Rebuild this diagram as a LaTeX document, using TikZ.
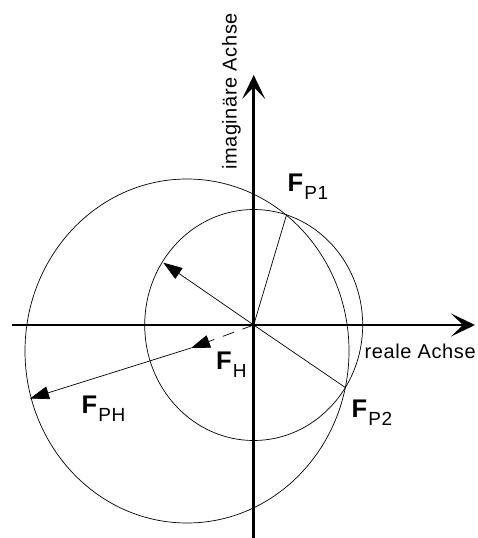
\documentclass[tikz,border=0pt]{standalone}
\usepackage{fontspec}
\setmainfont[LetterSpace=3]{Liberation Sans}
\usepackage{tikz}
\usetikzlibrary{
    arrows.meta,
    positioning,
    calc
}
\newcommand{\forcename}[1]{{\fontsize{25.5}{25.5}\selectfont\bfseries F}\kern1pt\raisebox{-7.8pt}{\fontsize{19}{19}\selectfont #1}}

\begin{document}
\begin{tikzpicture}[x=1pt, y=-1pt,
            axisline/.style={line width=2.6pt, -{Stealth[length=24pt, width=23pt, inset=12pt]}},
            thinline/.style={line width=0.7pt},
            forcevec/.style={line width=0.7pt, -{Triangle[length=19pt, width=13pt]}},
            forcelabel/.style={inner sep=0pt, anchor=base west},
            axislabel/.style={inner sep=0pt, anchor=base west, font=\fontsize{20}{20}\selectfont}]
    \useasboundingbox (0,0) rectangle (477,538);

    % Points
    \coordinate (O) at (253.7,325);
    \coordinate (C) at (187,351);
    \coordinate (P1) at (286.7,214.3);
    \coordinate (P2) at (345,387.3);
    \coordinate (Q) at (163.3,262.7);
    \coordinate (H) at (191,348);
    \coordinate (R) at (30,398.5);
    \coordinate (xstart) at (12,325);
    \coordinate (xend) at (475,325);
    \coordinate (ystart) at (253.7,538);
    \coordinate (yend) at (253.7,75);

    % Circles
    \draw[thinline] (O) ellipse [x radius=109pt, y radius=115.5pt];
    \draw[thinline] (C) ellipse [x radius=162pt, y radius=172pt];

    % Vectors
    \draw[thinline] (O) -- (P1);
    \draw[thinline] (O) -- (P2);
    \draw[forcevec] (O) -- (Q);
    \draw[forcevec, dash pattern=on 12pt off 9pt] (O) -- (H);
    \draw[forcevec] (H) -- (R);

    % Axes
    \draw[axisline] (xstart) -- (xend);
    \draw[axisline] (ystart) -- (yend);

    % Labels
    \node[forcelabel] (fp1) at (287.5,191.7) {\forcename{P1}};
    \node[forcelabel] (fp2) at (351.5,417.7) {\forcename{P2}};
    \node[forcelabel] (fh) at (216,369.3) {\forcename{H}};
    \node[forcelabel] (fph) at (81.5,413.3) {\forcename{PH}};
    \node[axislabel] (realax) at (364.5,358.3) {reale Achse};
    \node[axislabel, rotate=90] (imagax) at (236.5,170) {imaginäre Achse};
\end{tikzpicture}
\end{document}
